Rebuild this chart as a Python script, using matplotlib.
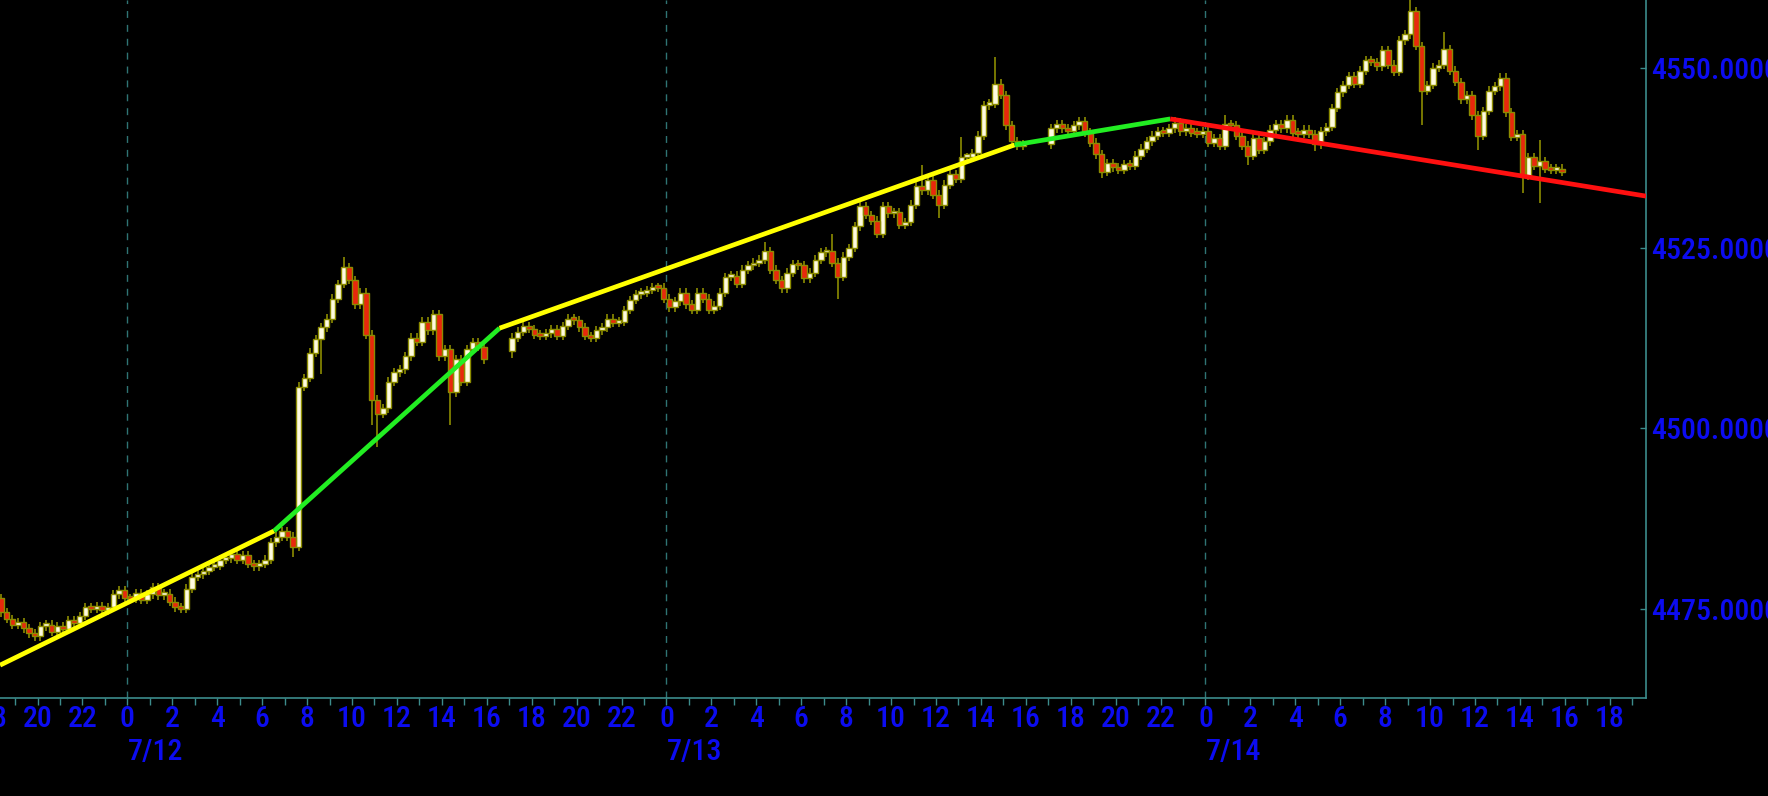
import numpy as np
import matplotlib
matplotlib.use('Agg')
import matplotlib.pyplot as plt
import matplotlib.transforms as mtransforms
from matplotlib.ticker import FixedLocator

plt.rcParams['font.family'] = ['Roboto Condensed', 'DejaVu Sans']
plt.rcParams['font.weight'] = 500

# 15-minute bars, hours counted from 7/12 0:00
step = 0.25

s1_start = -5.75
s1_open = 4476.5
s1_close = [4474.5, 4473.6, 4472.8, 4473.2, 4472.3, 4471.6, 4471.2, 4472.6, 4472.8, 4471.8,
            4472.6, 4472.2, 4473.4, 4473.0, 4474.0, 4475.2, 4475.0, 4475.4, 4474.8, 4475.2,
            4477.0, 4477.6, 4476.5, 4476.4, 4477.2, 4476.3, 4477.0, 4478.0, 4476.9, 4477.1,
            4476.0, 4475.2, 4475.0, 4477.8, 4479.4, 4479.8, 4480.3, 4480.8, 4481.0, 4481.8,
            4482.0, 4482.6, 4481.8, 4482.4, 4481.2, 4480.9, 4481.2, 4481.8, 4484.2, 4485.0,
            4485.8, 4485.0, 4483.6, 4505.8, 4507.0, 4510.5, 4512.4, 4514.0, 4515.2, 4518.0,
            4520.0, 4522.4, 4520.6, 4517.2, 4518.8, 4513.0, 4504.0, 4502.0, 4502.8, 4506.5,
            4507.8, 4508.2, 4510.0, 4512.6, 4512.0, 4514.8, 4513.6, 4515.8, 4510.0, 4511.0,
            4505.0, 4509.6, 4506.5, 4511.0, 4512.0, 4511.3, 4509.6]

s2_start = 17.0
s2_open = 4510.8
s2_close = [4512.6, 4513.4, 4514.2, 4513.8, 4513.0, 4512.8, 4513.2, 4513.8, 4512.8, 4514.2,
            4515.2, 4515.0, 4514.0, 4512.8, 4512.6, 4513.6, 4514.0, 4515.2, 4514.6, 4514.8,
            4516.4, 4517.8, 4518.6, 4518.8, 4519.2, 4519.6, 4519.5, 4518.0, 4516.8, 4517.6,
            4518.8, 4517.2, 4516.4, 4518.8, 4518.0, 4516.4, 4517.0, 4518.8, 4521.0, 4521.2,
            4520.0, 4522.0, 4522.6, 4523.0, 4523.4, 4524.6, 4522.0, 4520.6, 4519.4, 4521.6,
            4522.8, 4522.6, 4520.8, 4521.6, 4523.4, 4524.4, 4524.6, 4523.0, 4521.0, 4523.8,
            4525.0, 4528.0, 4530.8, 4529.6, 4528.8, 4527.0, 4530.8, 4529.8, 4530.0, 4528.2,
            4528.6, 4531.0, 4533.6, 4533.0, 4534.4, 4532.4, 4531.0, 4533.8, 4535.2, 4534.6,
            4537.6, 4537.6, 4538.2, 4540.6, 4544.8, 4545.0, 4547.8, 4546.2, 4542.0, 4539.8,
            4539.2, 4539.4]

s3_start = 41.0
s3_open = 4539.4
s3_close = [4541.6, 4542.2, 4541.6, 4541.2, 4542.0, 4542.6, 4541.0, 4539.6, 4538.0, 4535.6,
            4536.8, 4536.2, 4535.8, 4536.6, 4536.4, 4537.8, 4538.8, 4539.8, 4540.6, 4541.2,
            4541.0, 4541.6, 4542.4, 4541.2, 4541.6, 4541.0, 4540.8, 4541.2, 4539.6, 4540.2,
            4539.2, 4542.2, 4542.0, 4540.6, 4539.2, 4537.8, 4540.2, 4538.6, 4539.8, 4541.4,
            4542.2, 4541.6, 4542.8, 4541.0, 4540.8, 4541.4, 4540.8, 4539.4, 4541.2, 4541.8,
            4544.4, 4546.6, 4547.6, 4548.8, 4547.8, 4549.6, 4551.0, 4550.8, 4550.2, 4552.4,
            4550.4, 4549.4, 4553.8, 4554.6, 4557.8, 4553.0, 4546.8, 4547.6, 4550.0, 4550.4,
            4552.6, 4549.6, 4548.0, 4545.6, 4546.2, 4543.4, 4540.6, 4544.0, 4546.8, 4547.4,
            4548.6, 4543.8, 4540.4, 4540.8, 4535.0, 4537.6, 4536.4, 4537.0, 4536.0, 4535.8,
            4536.0, 4535.6]

# long wicks (bar start hour -> extreme price)
high_marks = {-0.5: 4478.2, 9.5: 4523.8, 28.25: 4525.9, 31.25: 4527.0, 35.25: 4536.5,
              37.0: 4540.4, 38.5: 4551.5, 46.5: 4543.2, 48.75: 4543.4, 57.0: 4560.5,
              58.5: 4555.0, 62.75: 4540.0}
low_marks = {-4.25: 4470.6, 2.25: 4474.6, 7.25: 4482.2, 8.5: 4507.6, 10.75: 4500.5,
             11.0: 4497.4, 14.25: 4500.5, 17.0: 4509.8, 29.0: 4518.8, 31.5: 4518.0,
             36.0: 4529.1, 43.25: 4534.7, 49.75: 4536.5, 52.75: 4538.4, 57.5: 4542.1,
             60.0: 4538.6, 62.0: 4532.6, 62.75: 4531.2}

# trend lines
trend_t = [-5.67, 6.53, 16.57, 39.5, 46.43, 67.62]
trend_p = [4467.2, 4485.8, 4513.9, 4539.3, 4542.9, 4532.2]
trend_colors = ['#ffff00', '#22ee22', '#ffff00', '#22ee22', '#ff1010']

y_ticks = [4475, 4500, 4525, 4550]
day_starts = [0, 24, 48]
day_labels = ['7/12', '7/13', '7/14']

# build OHLC
tt, oo, cc, hh, ll = [], [], [], [], []
for start, first_open, closes in [(s1_start, s1_open, s1_close),
                                  (s2_start, s2_open, s2_close),
                                  (s3_start, s3_open, s3_close)]:
    prev = first_open
    for i, cl in enumerate(closes):
        tb = round(start + i * step, 2)
        hi = max(prev, cl) + 0.6
        lo = min(prev, cl) - 0.6
        if tb in high_marks:
            hi = max(hi, high_marks[tb])
        if tb in low_marks:
            lo = min(lo, low_marks[tb])
        tt.append(tb + step / 2)
        oo.append(prev)
        cc.append(cl)
        hh.append(hi)
        ll.append(lo)
        prev = cl

tt = np.array(tt); oo = np.array(oo); cc = np.array(cc)
hh = np.array(hh); ll = np.array(ll)

W, H = 1768, 796
px_per_hour = 22.46
x_left_px = -20
right_px = 1646
t0_px = 127.4
xmin = (x_left_px - t0_px) / px_per_hour
xmax = (right_px - t0_px) / px_per_hour

fig = plt.figure(figsize=(W / 100, H / 100), dpi=100, facecolor='black')
ax = fig.add_axes([x_left_px / W, 98 / H, (right_px - x_left_px) / W, 698 / H])
ax.set_facecolor('black')

olive = '#8c8c00'
teal = '#3c8c8c'
blue = '#0c0cf0'

# day separators
for d in day_starts:
    ax.axvline(d, color='#2f7474', lw=1, ls=(0, (5, 5)), zorder=1)

# candles
ax.vlines(tt, ll, hh, color=olive, lw=1.2, zorder=2)
up = cc >= oo
bottoms = np.minimum(oo, cc)
heights = np.maximum(np.abs(cc - oo), 0.4)
ax.bar(tt[up], heights[up], width=0.24, bottom=bottoms[up], color='#fffbe0',
       edgecolor=olive, linewidth=1.0, zorder=3)
ax.bar(tt[~up], heights[~up], width=0.24, bottom=bottoms[~up], color='#e8280c',
       edgecolor=olive, linewidth=1.0, zorder=3)

# trend lines
for i, col in enumerate(trend_colors):
    ax.plot(trend_t[i:i + 2], trend_p[i:i + 2], color=col, lw=3.4, solid_capstyle='butt', zorder=4)

ax.set_xlim(xmin, xmax)
ax.set_ylim(4462.65, 4559.38)

for s in ['left', 'top']:
    ax.spines[s].set_visible(False)
for s in ['right', 'bottom']:
    ax.spines[s].set_color(teal)
    ax.spines[s].set_linewidth(1.2)

ax.yaxis.tick_right()
ax.set_yticks(y_ticks)
ax.set_yticklabels([f'{v:.4f}' for v in y_ticks])
ax.tick_params(axis='y', direction='in', length=4, width=1, color=teal,
               labelcolor=blue, labelsize=21.5, pad=4)

hours = list(range(-6, 68))
ax.xaxis.set_major_locator(FixedLocator(hours))
ax.set_xticklabels([str(h % 24) if h % 2 == 0 else '' for h in hours])
ax.tick_params(axis='x', direction='out', length=5, width=1, color=teal,
               labelcolor=blue, labelsize=21.5, pad=0)

trans = mtransforms.blended_transform_factory(ax.transData, fig.transFigure)
for d, lab in zip(day_starts, day_labels):
    ax.text(d, 1 - 752 / H, lab, transform=trans, ha='left', va='center',
            color=blue, fontsize=21.5)

fig.savefig('out.png', dpi=100, facecolor='black')
